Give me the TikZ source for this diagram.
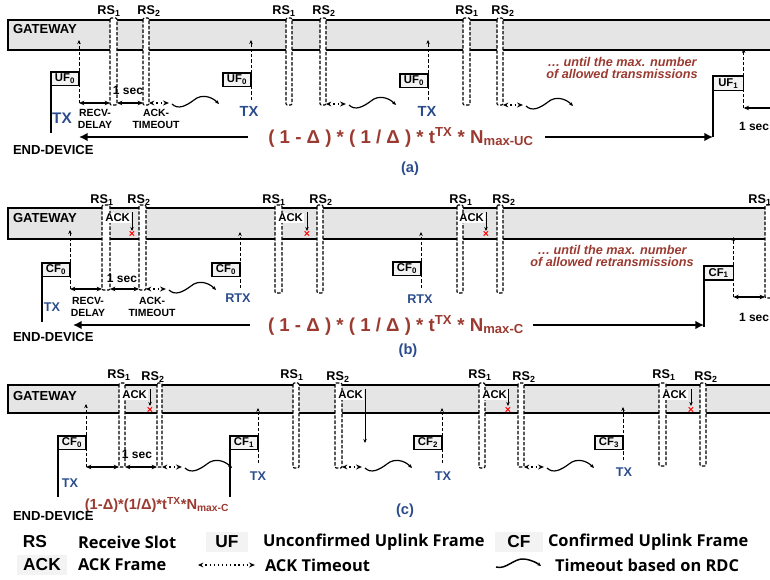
\documentclass[tikz,border=0pt]{standalone}
\usepackage{fontspec}
\setmainfont{Liberation Sans}
\newfontfamily\legfont{Open Sans}
\usetikzlibrary{arrows.meta}
\definecolor{txblue}{RGB}{43,76,140}
\definecolor{fred}{RGB}{155,58,48}
\definecolor{bandgray}{RGB}{229,229,229}
\definecolor{boxgray}{RGB}{243,243,243}
\newcommand\fsz[1]{\fontsize{#1}{#1}\selectfont\bfseries}
\newcommand\rsslot[5]{\draw[slot] (#2,#4) rectangle (#3,#5); \coordinate (#1l) at (#2,#5); \coordinate (#1r) at (#3,#5);}
\newcommand\ackwave[2]{\begin{scope}[shift={(#1,#2)}]
 \draw[dotarr] (0,0) -- (20,0);
 \draw[wave] (23,1) .. controls (29,7) and (37,3) .. (45,-3) .. controls (52,-9) and (62,-7) .. (70,1);
\end{scope}}
\begin{document}
\begin{tikzpicture}[x=0.75pt,y=-0.75pt,
 every node/.style={inner sep=0pt, outer sep=0pt},
 bandline/.style={line width=0.9pt},
 slot/.style={draw, fill=white, line width=0.85pt, dash pattern=on 2.6pt off 1.3pt, rounded corners=0.8pt},
 rslbl/.style={font=\fsz{9.5}},
 gw/.style={font=\fsz{9.8}, anchor=west},
 frame/.style={draw, line width=0.9pt, fill=boxgray, font=\fsz{8.5}, minimum width=21pt, minimum height=10pt, anchor=north west},
 devline/.style={line width=1.1pt},
 uparr/.style={line width=0.7pt, dash pattern=on 2.5pt off 1.5pt, -{Stealth[length=3pt,width=2.6pt]}},
 dbl/.style={line width=0.8pt, {Stealth[length=4pt,width=3.4pt]}-{Stealth[length=4pt,width=3.4pt]}},
 dotarr/.style={line width=0.9pt, dash pattern=on 0.9pt off 2.2pt, {Stealth[length=4pt,width=3.6pt]}-{Stealth[open,length=4.5pt,width=3.8pt]}},
 wave/.style={line width=0.9pt, -{Stealth[length=3pt,width=2.6pt]}},
 txt/.style={font=\fsz{7.8}, align=center},
 sec/.style={font=\fsz{9}},
 tx/.style={font=\fsz{9.5}, text=txblue},
 ack/.style={font=\fsz{8.5}, fill=white, inner sep=1pt, anchor=west},
 ackarr/.style={line width=0.7pt, -{Stealth[length=3pt,width=2.6pt]}},
 xm/.style={text=red, font=\fsz{8}},
 big/.style={line width=2.2pt, -{Latex[length=6.5pt,width=6.5pt]}},
 form/.style={font=\fsz{14}, text=fred},
 until/.style={font=\fsz{9.5}\itshape, text=fred, align=center},
 captxt/.style={font=\fsz{11}, text=txblue},
 legab/.style={font=\fsz{13}},
 legtxt/.style={font=\legfont\fsz{12.3}, anchor=west},
 legbox/.style={fill=boxgray, minimum height=15pt, font=\fsz{13}}
]
\useasboundingbox (0,0) rectangle (770,580);
\clip (0,0) rectangle (770,580);

%%%%%%%%%%%%%%%% (a)
\fill[bandgray] (8,20) rectangle (780,50);
\draw[bandline] (780,20) -- (8,20) -- (8,50) -- (780,50);
\node[gw] (gwa) at (13,29) {GATEWAY};
\rsslot{sa1}{110}{117}{18}{105}
\rsslot{sa2}{143}{149}{18}{105}
\rsslot{sa3}{286}{292}{18}{105}
\rsslot{sa4}{320}{326}{18}{105}
\rsslot{sa5}{463}{470}{18}{105}
\rsslot{sa6}{497}{503}{18}{105}
\node[rslbl] (la1) at (109,11) {RS\textsubscript{1}};
\node[rslbl] (la2) at (149,11) {RS\textsubscript{2}};
\node[rslbl] (la3) at (284,11) {RS\textsubscript{1}};
\node[rslbl] (la4) at (324,11) {RS\textsubscript{2}};
\node[rslbl] (la5) at (467,11) {RS\textsubscript{1}};
\node[rslbl] (la6) at (503,11) {RS\textsubscript{2}};

\node[frame] (ufa1) at (51,72) {UF\textsubscript{0}};
\draw[devline] (ufa1.north west) -- ++(0,61) coordinate (ufa1b);
\coordinate (rowa) at (0,103);
\coordinate (tipa) at (0,40);
\draw[uparr] (ufa1.north east |- rowa) -- (ufa1.north east |- tipa);
\draw[dbl] (ufa1.north east |- rowa) -- (sa1l |- rowa);
\draw[dbl] (sa1r |- rowa) -- (sa2l |- rowa);
\ackwave{149}{103}
\node[sec] (seca) at (128,90) {1 sec};
\node[txt] (recva) at (95,119) {RECV-\\[1pt]DELAY};
\node[txt] (acka) at (156,119) {ACK-\\[1pt]TIMEOUT};
\node[tx,font=\fsz{11.5}] (txa1) at (62,118) {TX};

\node[frame] (ufa2) at (223,73) {UF\textsubscript{0}};
\draw[uparr] (ufa2.north east |- 0,100) -- (ufa2.north east |- tipa);
\node[tx,font=\fsz{11}] (txa2) at (249,111) {TX};
\ackwave{326}{104}
\node[frame] (ufa3) at (400,74) {UF\textsubscript{0}};
\draw[uparr] (ufa3.north east |- 0,100) -- (ufa3.north east |- tipa);
\node[tx,font=\fsz{11}] (txa3) at (427,111) {TX};
\ackwave{503}{105}
\node[until] (untila) at (622,68) {\dots\ until the max. number\\of allowed transmissions};

\node[frame, minimum width=23pt, minimum height=11pt] (ufa4) at (713,76) {UF\textsubscript{1}};
\draw[devline] (ufa4.north west) -- ++(0,61) coordinate (ufa4b);
\draw[uparr] (ufa4.north east |- 0,108) -- (ufa4.north east |- 0,49);
\coordinate (enda) at (800,108);
\draw[dbl] (ufa4.north east |- enda) -- (enda);
\node[sec, anchor=west] (seca2) at (739,126) {1 sec};

\node[form] (fa) at (401,137) {( 1 - Δ ) * ( 1 / Δ ) * t\textsuperscript{TX} * N\textsubscript{max-UC}};
\coordinate (fal) at (248,137);
\coordinate (far) at (545,137);
\draw[big] (fal) -- (ufa1.north east |- fal);
\draw[big] (far) -- (ufa4b);
\node[gw] (eda) at (13,150) {END-DEVICE};
\node[captxt] (capa) at (410,169) {(a)};

%%%%%%%%%%%%%%%% (b)
\fill[bandgray] (8,208) rectangle (780,239);
\draw[bandline] (780,208) -- (8,208) -- (8,239) -- (780,239);
\node[gw] (gwb) at (13,218) {GATEWAY};
\rsslot{sb1}{102}{110}{205}{290}
\rsslot{sb2}{139}{146}{205}{290}
\rsslot{sb3}{275}{282}{205}{293}
\rsslot{sb4}{317}{323}{205}{293}
\rsslot{sb5}{457}{463}{205}{293}
\rsslot{sb6}{497}{503}{205}{293}
\rsslot{sb7}{765}{772}{205}{298}
\node[rslbl] (lb1) at (102,200) {RS\textsubscript{1}};
\node[rslbl] (lb2) at (139,200) {RS\textsubscript{2}};
\node[rslbl] (lb3) at (274,200) {RS\textsubscript{1}};
\node[rslbl] (lb4) at (321,200) {RS\textsubscript{2}};
\node[rslbl] (lb5) at (461,200) {RS\textsubscript{1}};
\node[rslbl] (lb6) at (504,200) {RS\textsubscript{2}};
\node[rslbl] (lb7) at (760,200) {RS\textsubscript{1}};

\node[ack] (ackb1) at (104,218) {ACK};
\draw[ackarr] (132,212) coordinate (kb1t) -- (132,231) coordinate (kb1b);
\node[xm] (xb1) at (132,234.5) {×};
\node[ack] (ackb2) at (277,218) {ACK};
\draw[ackarr] (307,212) coordinate (kb2t) -- (307,231) coordinate (kb2b);
\node[xm] (xb2) at (307,234.5) {×};
\node[ack] (ackb3) at (458,218) {ACK};
\draw[ackarr] (486,212) coordinate (kb3t) -- (486,231) coordinate (kb3b);
\node[xm] (xb3) at (486,234.5) {×};

\node[frame] (cfb1) at (42,263) {CF\textsubscript{0}};
\draw[devline] (cfb1.north west) -- ++(0,59) coordinate (cfb1b);
\coordinate (rowb) at (0,289);
\coordinate (tipb) at (0,230);
\draw[uparr] (cfb1.north east |- rowb) -- (cfb1.north east |- tipb);
\draw[dbl] (cfb1.north east |- rowb) -- (sb1l |- rowb);
\draw[dbl] (sb1r |- rowb) -- (sb2l |- rowb);
\ackwave{146}{289}
\node[sec] (secb) at (122,278) {1 sec};
\node[txt] (recvb) at (88,307) {RECV-\\[1pt]DELAY};
\node[txt] (ackbt) at (152,307) {ACK-\\[1pt]TIMEOUT};
\node[tx] (txb1) at (52,307) {TX};

\node[frame] (cfb2) at (212,263) {CF\textsubscript{0}};
\draw[uparr] (cfb2.north east |- 0,288) -- (cfb2.north east |- 0,232);
\node[tx] (txb2) at (238,298) {RTX};
\node[frame] (cfb3) at (393,262) {CF\textsubscript{0}};
\draw[uparr] (cfb3.north east |- 0,288) -- (cfb3.north east |- 0,232);
\node[tx] (txb3) at (420,299) {RTX};
\node[until] (untilb) at (612,256) {\dots\ until the max. number\\of allowed retransmissions};

\node[frame, minimum width=22pt, minimum height=10.5pt] (cfb4) at (704,266) {CF\textsubscript{1}};
\draw[devline] (cfb4.north west) -- ++(0,61) coordinate (cfb4b);
\draw[uparr] (cfb4.north east |- 0,297) -- (cfb4.north east |- 0,237);
\draw[dbl] (cfb4.north east |- 0,297) -- (sb7l |- 0,297);
\node[sec, anchor=west] (secb2) at (739,317) {1 sec};

\node[form] (fb) at (396,325) {( 1 - Δ ) * ( 1 / Δ ) * t\textsuperscript{TX} * N\textsubscript{max-C}};
\coordinate (fbl) at (250,325);
\coordinate (fbr) at (533,325);
\draw[big] (fbl) -- (73,325) coordinate (fbtip);
\draw[big] (fbr) -- (cfb4.north west |- fbr);
\node[gw] (edb) at (13,337) {END-DEVICE};
\node[captxt] (capb) at (408,351) {(b)};

%%%%%%%%%%%%%%%% (c)
\fill[bandgray] (8,385) rectangle (780,413);
\draw[bandline] (780,385) -- (8,385) -- (8,413) -- (780,413);
\node[gw] (gwc) at (13,396) {GATEWAY};
\rsslot{sc1}{119}{125}{383}{467}
\rsslot{sc2}{157}{162}{383}{467}
\rsslot{sc3}{293}{299}{383}{468}
\rsslot{sc4}{335}{342}{383}{468}
\rsslot{sc5}{479}{485}{383}{468}
\rsslot{sc6}{518}{524}{383}{467}
\rsslot{sc7}{659}{666}{383}{466}
\rsslot{sc8}{700}{706}{383}{466}
\node[rslbl] (lc1) at (119,375) {RS\textsubscript{1}};
\node[rslbl] (lc2) at (153,377) {RS\textsubscript{2}};
\node[rslbl] (lc3) at (292,375) {RS\textsubscript{1}};
\node[rslbl] (lc4) at (338,377) {RS\textsubscript{2}};
\node[rslbl] (lc5) at (480,375) {RS\textsubscript{1}};
\node[rslbl] (lc6) at (524,377) {RS\textsubscript{2}};
\node[rslbl] (lc7) at (664,375) {RS\textsubscript{1}};
\node[rslbl] (lc8) at (706,377) {RS\textsubscript{2}};

\node[ack] (ackc1) at (121,395) {ACK};
\draw[ackarr] (150,389) coordinate (kc1t) -- (150,406) coordinate (kc1b);
\node[xm] (xc1) at (150,410) {×};
\node[ack] (ackc2) at (337,395) {ACK};
\draw[ackarr] (365,389) coordinate (kc2t) -- (365,443) coordinate (kc2b);
\node[ack] (ackc3) at (481,395) {ACK};
\draw[ackarr] (508,389) coordinate (kc3t) -- (508,406) coordinate (kc3b);
\node[xm] (xc3) at (508,410) {×};
\node[ack] (ackc4) at (661,395) {ACK};
\draw[ackarr] (691,389) coordinate (kc4t) -- (691,406) coordinate (kc4b);
\node[xm] (xc4) at (691,410) {×};

\node[frame] (cfc1) at (58,436) {CF\textsubscript{0}};
\draw[devline] (cfc1.north west) -- ++(0,61) coordinate (cfc1b);
\coordinate (rowc) at (0,467);
\coordinate (tipc) at (0,404);
\draw[uparr] (cfc1.north east |- rowc) -- (cfc1.north east |- tipc);
\draw[dbl] (cfc1.north east |- rowc) -- (sc1l |- rowc);
\draw[dbl] (sc1r |- rowc) -- (sc2l |- rowc);
\ackwave{162}{467}
\node[sec] (secc) at (137,454) {1 sec};
\node[tx] (txc1) at (70,483) {TX};

\node[frame] (cfc2) at (230,436) {CF\textsubscript{1}};
\draw[devline] (cfc2.north west) -- ++(0,61) coordinate (cfc2b);
\draw[uparr] (cfc2.north east |- 0,463) -- (cfc2.north east |- 0,408);
\node[tx] (txc2) at (258,476) {TX};
\ackwave{342}{467}
\node[frame] (cfc3) at (414,436) {CF\textsubscript{2}};
\draw[uparr] (cfc3.north east |- 0,463) -- (cfc3.north east |- 0,408);
\node[tx] (txc3) at (443,476) {TX};
\ackwave{524}{467}
\node[frame] (cfc4) at (595,436) {CF\textsubscript{3}};
\draw[uparr] (cfc4.north east |- 0,460) -- (cfc4.north east |- 0,407);
\node[tx] (txc4) at (624,472) {TX};

\node[form, font=\fsz{11}] (fc) at (157,505) {(1-Δ)*(1/Δ)*t\textsuperscript{TX}*N\textsubscript{max-C}};
\node[gw] (edc) at (13,516) {END-DEVICE};
\node[captxt] (capc) at (405,511) {(c)};

%%%%%%%%%%%%%%%% legend
\node[legab] (lgrs) at (35,542) {RS};
\node[legtxt] (lgrst) at (78,542) {Receive Slot};
\node[legbox, minimum width=32pt] (lguf) at (227,542) {UF};
\node[legtxt] (lguft) at (263,542) {Unconfirmed Uplink Frame};
\node[legbox, minimum width=36pt] (lgcf) at (519,542) {CF};
\node[legtxt] (lgcft) at (548,542) {Confirmed Uplink Frame};
\node[legbox, minimum width=37pt] (lgack) at (42,565) {ACK};
\node[legtxt] (lgackt) at (78,565) {ACK Frame};
\coordinate (lgda) at (198,565);
\coordinate (lgdb) at (255,565);
\draw[dotarr] (lgda) -- (lgdb);
\node[legtxt] (lgdt) at (265,565) {ACK Timeout};
\coordinate (lgwa) at (496,567);
\coordinate (lgwb) at (541,566);
\draw[wave, line width=1.1pt] (lgwa) .. controls (506,570) and (514,558) .. (524,559) .. controls (532,560) and (537,563) .. (lgwb);
\node[legtxt] (lgwt) at (555,565) {Timeout based on RDC};
\end{tikzpicture}
\end{document}
